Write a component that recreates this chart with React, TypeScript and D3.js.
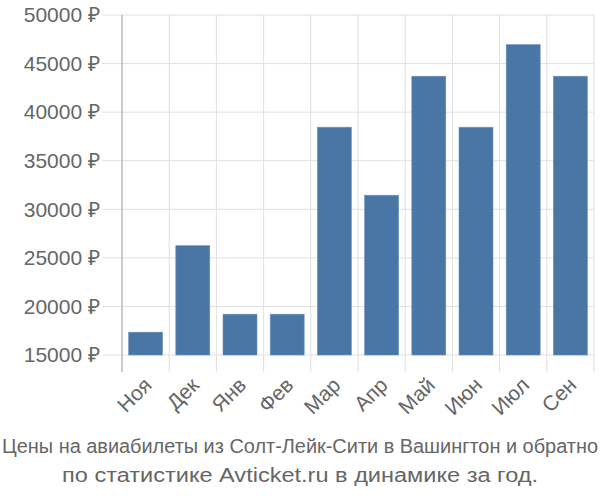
import React from "react";
import * as d3 from "d3";

const months = ["Ноя", "Дек", "Янв", "Фев", "Мар", "Апр", "Май", "Июн", "Июл", "Сен"];
const prices = [17350, 26250, 19200, 19200, 38450, 31450, 43700, 38450, 46950, 43700];
const yTicks = [15000, 20000, 25000, 30000, 35000, 40000, 45000, 50000];
const titleLines = [
  "Цены на авиабилеты из Солт-Лейк-Сити в Вашингтон и обратно",
  "по статистике Avticket.ru в динамике за год.",
];

export default function App() {
  const W = 600, H = 500;
  const left = 122, right = 594, top = 15, bottom = 355;
  const x = d3.scaleBand<string>().domain(months).range([left, right]).paddingInner(0.28).paddingOuter(0.14);
  const xg = d3.scaleBand<string>().domain(months).range([left, right]);
  const y = d3.scaleLinear().domain([15000, 50000]).range([bottom, top]);
  const font = "'Liberation Sans', Arial, sans-serif";
  return (
    <svg width={W} height={H} style={{ position: "absolute", left: 0, top: 0 }}>
      <rect width={W} height={H} fill="#fff" />
      {yTicks.map((t) => (
        <line key={"h" + t} x1={102} x2={right} y1={y(t)} y2={y(t)} stroke="#e0e0e0" strokeWidth={1} />
      ))}
      {months.map((m) => (
        <line key={"v" + m} x1={xg(m)!} x2={xg(m)!} y1={top} y2={372} stroke="#e0e0e0" strokeWidth={1} />
      ))}
      <line x1={right} x2={right} y1={top} y2={372} stroke="#e0e0e0" strokeWidth={1} />
      <line x1={left} x2={left} y1={top} y2={372} stroke="#a6a6a6" strokeWidth={1} />
      {months.map((m, i) => (
        <rect
          key={"b" + m}
          x={x(m)!}
          y={y(prices[i])}
          width={x.bandwidth()}
          height={bottom - y(prices[i])}
          fill="#4a76a6"
          stroke="#6d93bd"
          strokeWidth={0.6}
        />
      ))}
      {yTicks.map((t) => (
        <text key={"yl" + t} x={100} y={y(t)} dy="0.35em" textAnchor="end" fontFamily={font} fontSize={21} fill="#666">
          {t} ₽
        </text>
      ))}
      {months.map((m) => {
        const cx = xg(m)! + xg.bandwidth() / 2;
        return (
          <text
            key={"xl" + m}
            transform={`translate(${cx - 3},${376}) rotate(-45)`}
            textAnchor="end"
            dy="0.7em"
            fontFamily={font}
            fontSize={21}
            fill="#666"
          >
            {m}
          </text>
        );
      })}
      {titleLines.map((l, i) => (
        <text key={"t" + i} x={300} y={453 + i * 29} textAnchor="middle" fontFamily={font} fontSize={20} fill="#666"
          textLength={i === 0 ? 596 : 476} lengthAdjust="spacingAndGlyphs">
          {l}
        </text>
      ))}
    </svg>
  );
}
